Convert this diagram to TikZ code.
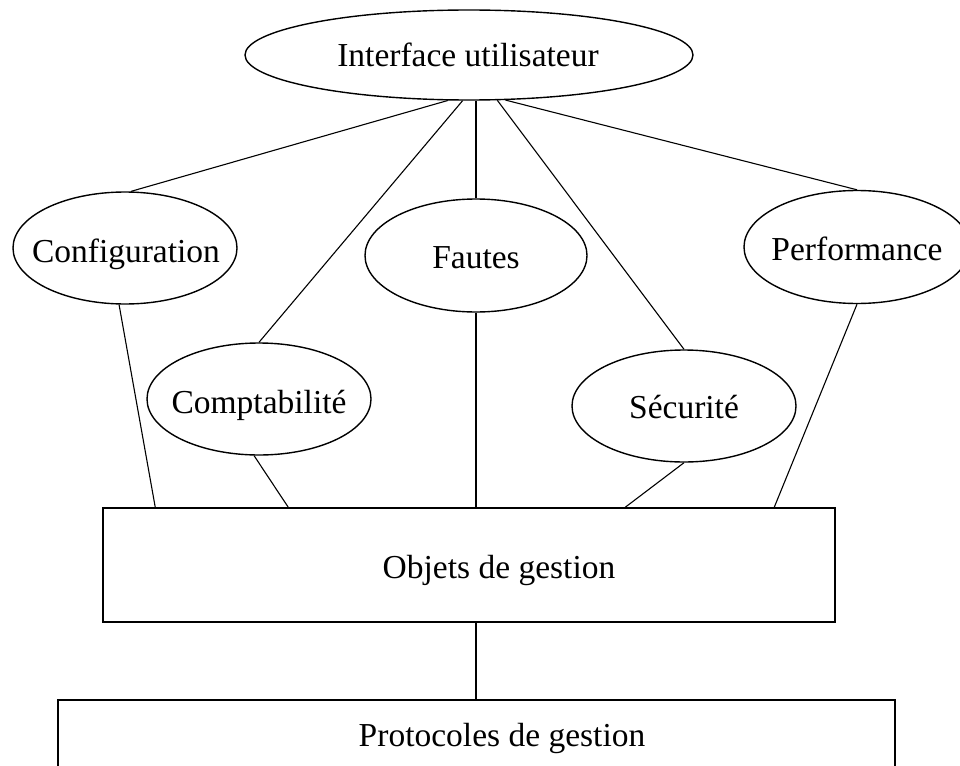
\documentclass[tikz,border=0pt]{standalone}
\usepackage{fontspec}
\setmainfont{Liberation Serif}
\usetikzlibrary{shapes.geometric}

\tikzset{
  oval/.style={draw, ellipse, line width=1.4pt, inner sep=0pt},
  box/.style={draw, rectangle, line width=1.5pt, inner sep=0pt},
  link/.style={line width=1.1pt},
  lbl/.style={font=\fontsize{33.5}{38}\selectfont, inner sep=0pt, anchor=base}
}

\begin{document}
\begin{tikzpicture}[x=1pt, y=-1pt]
  \clip (0,0) rectangle (960,765);
  \fill[white] (0,0) rectangle (960,765);

  % user interface on top
  \node[oval, minimum width=448, minimum height=90] (iu) at (469,55) {};
  \node[lbl] (iu-t) at (468,67) {Interface utilisateur};

  % the five management areas
  \node[oval, minimum width=224, minimum height=112] (conf) at (125,248) {};
  \node[lbl] (conf-t) at (126,262) {Configuration};

  \node[oval, minimum width=222, minimum height=113] (faut) at (476,255.5) {};
  \node[lbl] (faut-t) at (476,268) {Fautes};

  \node[oval, minimum width=226, minimum height=113] (perf) at (857,247) {};
  \node[lbl] (perf-t) at (857,260) {Performance};

  \node[oval, minimum width=224, minimum height=112] (comp) at (259,399) {};
  \node[lbl] (comp-t) at (259,413) {Comptabilité};

  \node[oval, minimum width=224, minimum height=112] (secu) at (684,406) {};
  \node[lbl] (secu-t) at (684,418) {Sécurité};

  % managed objects and protocols
  \node[box, minimum width=732, minimum height=114] (obj) at (469,565) {};
  \node[lbl] (obj-t) at (499,578) {Objets de gestion};

  \node[box, minimum width=837, minimum height=120] (proto) at (476.5,760) {};
  \node[lbl] (proto-t) at (502,746) {Protocoles de gestion};

  % links from the user interface
  \draw[link] (iu.245) -- (conf.84);
  \draw[link] (iu.262) -- (comp.north);
  \draw[link] (faut.north) -- (faut.north |- iu.south);
  \draw[link] (iu.302) -- (secu.north);
  \draw[link] (iu.309) -- (perf.north);

  % links down to the managed objects
  \draw[link] (conf.264) -- ([xshift=53pt]obj.north west);
  \draw[link] (comp.265) -- ([xshift=186pt]obj.north west);
  \draw[link] (faut.south) -- (faut.south |- obj.north);
  \draw[link] (secu.south) -- ([xshift=523pt]obj.north west);
  \draw[link] (perf.south) -- ([xshift=672pt]obj.north west);

  % objects to protocols
  \draw[link] (faut.south |- obj.south) -- (faut.south |- proto.north);
\end{tikzpicture}
\end{document}
